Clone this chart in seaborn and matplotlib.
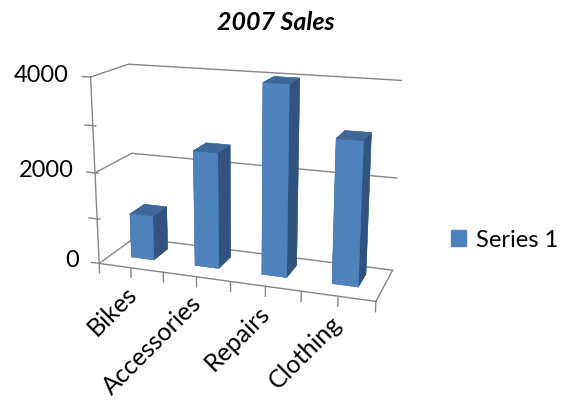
"""2007 sales as an Excel style 3D column chart."""
import matplotlib
matplotlib.use("Agg")
import matplotlib.pyplot as plt
import numpy as np
import seaborn as sns
from matplotlib.patches import Patch
from mpl_toolkits.mplot3d import proj3d

categories = ["Bikes", "Accessories", "Repairs", "Clothing"]
sales = [980, 2500, 4000, 3000]
value_ticks = [0, 1000, 2000, 3000, 4000]
value_labels = ["0", "", "2000", "", "4000"]
series_name = "Series 1"
title = "2007 Sales"

FRONT = "#4F81BD"
TOP = "#3F6797"
SIDE = "#31547E"
LINE = "#868686"

sns.set_theme(style="white")
plt.rcParams["font.family"] = ["Lato", "DejaVu Sans"]

fig = plt.figure(figsize=(5.73, 4.09), dpi=100)
ax = fig.add_subplot(projection="3d", computed_zorder=False)
ax.set_position([(239 - 204.5) / 573, (409 - 181 - 204.5) / 409, 409 / 573, 1.0])
ax.set_proj_type("persp", focal_length=0.42)
ax.view_init(elev=16, azim=-70.5)
ax.set_box_aspect((0.308, 0.088, 0.207), zoom=0.855)
ax.set_axis_off()

n = len(categories)
top_value = value_ticks[-1]
ax.set_xlim(0, n)
ax.set_ylim(0, 1)
ax.set_zlim(0, top_value)


def label_at(x, y, z, text, **kwargs):
    """Put flat text where a data point lands on screen."""
    px, py, _ = proj3d.proj_transform(x, y, z, ax.get_proj())
    ax.text2D(px, py, text, transform=ax.transData, color="black", **kwargs)


line_kw = {"color": LINE, "lw": 1.0, "zorder": 1, "clip_on": False}

# walls and floor
ax.plot([0, 0], [0, 0], [0, top_value], **line_kw)
ax.plot([0, n], [0, 0], [0, 0], **line_kw)
ax.plot([n, n], [0, 1], [0, 0], **line_kw)
for v in value_ticks[::2]:
    ax.plot([0, 0, n], [0, 1, 1], [v, v, v], **line_kw)

# value axis ticks
for v, lab in zip(value_ticks, value_labels):
    ax.plot([-0.13, 0.05 if 0 < v < top_value else 0], [0, 0], [v, v], **line_kw)
    if lab:
        label_at(-0.33, 0, v, lab, ha="right", va="center", fontsize=17)

# category axis ticks, two per category
for t in np.arange(0, n + 0.5, 0.5):
    ax.plot([t, t], [0, 0], [0, -220], **line_kw)

for i, cat in enumerate(categories):
    label_at(i + 0.4, 0, -340, cat, ha="right", va="top", rotation=45,
             rotation_mode="anchor", fontsize=18)

# columns
bar_w = 0.36
bar_d = 0.42
xs = np.arange(n) + 0.5 - bar_w / 2
face_colors = [FRONT, TOP, FRONT, FRONT, SIDE, SIDE] * n
ax.bar3d(xs, np.full(n, 0.55 - bar_d / 2), np.zeros(n), bar_w, bar_d, sales,
         color=face_colors, edgecolor=face_colors, linewidth=0.3, shade=False, zorder=2)

fig.text(276 / 573, 1 - 22 / 409, title, ha="center", va="center", fontsize=18,
         fontweight="bold", fontstyle="italic", color="black")
fig.legend(handles=[Patch(color=FRONT, label=series_name)], loc="center left",
           bbox_to_anchor=(439 / 573, 1 - 240 / 409), frameon=False, fontsize=17,
           labelcolor="black", handlelength=0.63, handleheight=0.63,
           handletextpad=0.45, borderpad=0)

fig.savefig("out.png", dpi=100)
